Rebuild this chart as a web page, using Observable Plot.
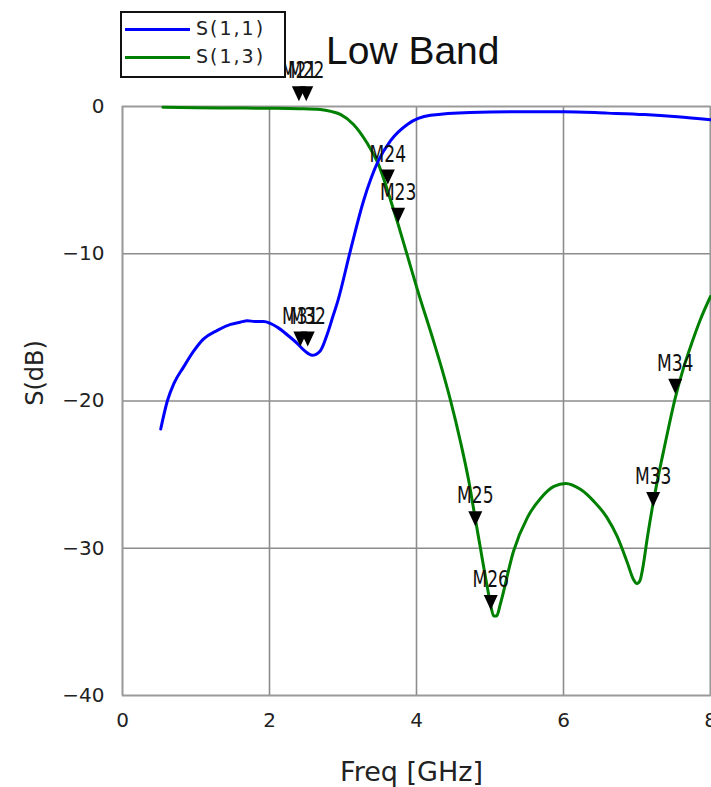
<!DOCTYPE html>
<html>
<head>
<meta charset="utf-8">
<script src="https://cdn.jsdelivr.net/npm/d3@7"></script>
<script src="https://cdn.jsdelivr.net/npm/@observablehq/plot@0.6"></script>
<style>
  html, body { margin: 0; padding: 0; background: white; }
  #wrap { position: relative; width: 711px; height: 787px; overflow: hidden; }
  #chart svg { display: block; }
  .legend { position: absolute; left: 120px; top: 11px; width: 162px; height: 63px; border: 2px solid #111; background: white; z-index: 2; }
  .legend .sw { position: absolute; left: 3px; width: 65px; height: 3px; }
  .legend .lab { position: absolute; left: 74px; font: 19px "DejaVu Sans", sans-serif; letter-spacing: 2px; color: #222; line-height: 22px; }
  .title { position: absolute; left: 326px; top: 31px; font: 39px "Liberation Sans", Arial, sans-serif; line-height: 39px; color: #111; z-index: 2; white-space: nowrap; }
</style>
</head>
<body>
<div id="wrap">
  <div id="chart"></div>
  <div class="legend">
    <div class="sw" style="top:15px;background:#0000ff"></div>
    <div class="lab" style="top:4px">S(1,1)</div>
    <div class="sw" style="top:43px;background:#008000"></div>
    <div class="lab" style="top:32px">S(1,3)</div>
  </div>
  <div class="title">Low Band</div>
</div>
<script>
// S(1,1) series
const s11Freq = [0.52,0.61,0.70,0.83,0.97,1.10,1.29,1.47,1.60,1.70,1.80,1.92,2.11,2.24,2.38,2.48,2.58,2.69,2.79,2.86,2.93,3.10,3.28,3.48,3.65,3.88,4.19,4.73,5.41,6.00,6.60,7.10,7.55,8.00];
const s11Val  = [-21.9,-20.0,-18.8,-17.7,-16.6,-15.8,-15.2,-14.8,-14.65,-14.55,-14.6,-14.6,-15.0,-15.5,-16.1,-16.6,-16.9,-16.6,-15.4,-14.3,-13.2,-9.8,-6.4,-3.7,-2.3,-1.2,-0.6,-0.4,-0.35,-0.35,-0.45,-0.55,-0.7,-0.9];
// S(1,3) series
const s13Freq = [0.55,1.00,1.50,2.00,2.40,2.69,2.85,2.97,3.14,3.33,3.48,3.65,3.75,3.88,4.01,4.23,4.35,4.46,4.60,4.71,4.80,4.87,4.94,5.00,5.05,5.09,5.14,5.32,5.51,5.69,5.87,6.03,6.23,6.41,6.59,6.73,6.87,6.95,7.00,7.04,7.08,7.14,7.21,7.29,7.37,7.52,7.63,7.75,7.86,8.00];
const s13Val  = [-0.05,-0.08,-0.1,-0.12,-0.15,-0.2,-0.35,-0.55,-1.2,-2.5,-3.9,-6.4,-8.0,-10.2,-12.4,-15.9,-17.9,-19.9,-22.8,-25.4,-28.0,-30.0,-32.0,-33.6,-34.6,-34.6,-33.8,-30.2,-27.9,-26.6,-25.8,-25.6,-26.0,-26.8,-27.9,-29.2,-31.0,-32.1,-32.4,-32.2,-31.3,-29.3,-27.2,-25.1,-23.2,-19.8,-17.8,-16.0,-14.5,-12.9];
// markers
const markerNames = ["M21","M22","M31","M32","M24","M23","M25","M26","M33","M34"];
const markerFreq  = [2.40,2.50,2.42,2.52,3.61,3.75,4.80,5.01,7.22,7.52];
const markerVal   = [0.35,0.35,-16.3,-16.3,-5.3,-7.9,-28.5,-34.2,-27.2,-19.5];
// ticks
const xTicks = [0,2,4,6,8];
const yTicks = [0,-10,-20,-30,-40];

const s11 = s11Freq.map((f,i) => ({f, v: s11Val[i]}));
const s13 = s13Freq.map((f,i) => ({f, v: s13Val[i]}));
const markers = markerNames.map((n,i) => ({name: n, f: markerFreq[i], v: markerVal[i]}));

const downTri = {
  draw(context) {
    context.moveTo(0, 0);
    context.lineTo(-7, -15);
    context.lineTo(7, -15);
    context.closePath();
  }
};

const fmt = d => d < 0 ? "\u2212" + Math.abs(d) : String(d);

const chart = Plot.plot({
  width: 711,
  height: 787,
  marginTop: 106,
  marginBottom: 92,
  marginLeft: 122,
  marginRight: 1,
  style: {fontFamily: "'DejaVu Sans', sans-serif", background: "white", color: "#222"},
  x: {domain: [0, 8]},
  y: {domain: [-40, 0]},
  marks: [
    Plot.gridX(xTicks, {stroke: "#8c8c8c", strokeOpacity: 1, strokeWidth: 1.6}),
    Plot.gridY(yTicks, {stroke: "#8c8c8c", strokeOpacity: 1, strokeWidth: 1.6}),
    Plot.frame({stroke: "#9a9a9a", strokeWidth: 1.6}),
    Plot.axisX(xTicks, {tickSize: 0, tickPadding: 17, fontSize: 20, label: null, tickFormat: fmt}),
    Plot.axisY(yTicks, {tickSize: 0, tickPadding: 18, fontSize: 20, label: null, tickFormat: fmt}),
    Plot.line(s13, {x: "f", y: "v", stroke: "#008000", strokeWidth: 3, curve: "monotone-x"}),
    Plot.line(s11, {x: "f", y: "v", stroke: "#0000ff", strokeWidth: 3, curve: "monotone-x"}),
    Plot.dot(markers, {x: "f", y: "v", symbol: downTri, r: 5, fill: "black", stroke: null}),
    Plot.text(markers, {x: "f", y: "v", text: "name", dy: -23, lineAnchor: "bottom", fontSize: 19, fill: "#111", className: "mlab",
      fontFamily: "'Liberation Sans Narrow', 'DejaVu Sans Condensed', sans-serif"}),
    Plot.text(["Freq [GHz]"], {frameAnchor: "bottom", dx: -5, dy: 85, lineAnchor: "bottom", fontSize: 27, fill: "#222", letterSpacing: 1.5}),
    Plot.text(["S(dB)"], {frameAnchor: "left", textAnchor: "middle", dx: -87, dy: -28, rotate: -90, fontSize: 24, fill: "#222", letterSpacing: 2})
  ]
});
document.getElementById("chart").appendChild(chart);

// stretch marker labels vertically (tall narrow marker font)
let labTexts = chart.querySelectorAll(".mlab text");
if (!labTexts.length) {
  const g = chart.querySelector('g[aria-label="text"]');
  labTexts = g ? g.querySelectorAll("text") : [];
}
for (const t of labTexts) {
  const tr = t.getAttribute("transform") || "";
  const x = +t.getAttribute("x") || 0, y = +t.getAttribute("y") || 0;
  t.setAttribute("transform", `${tr} translate(${x},${y}) scale(1,1.25) translate(${-x},${-y})`);
}
</script>
</body>
</html>
